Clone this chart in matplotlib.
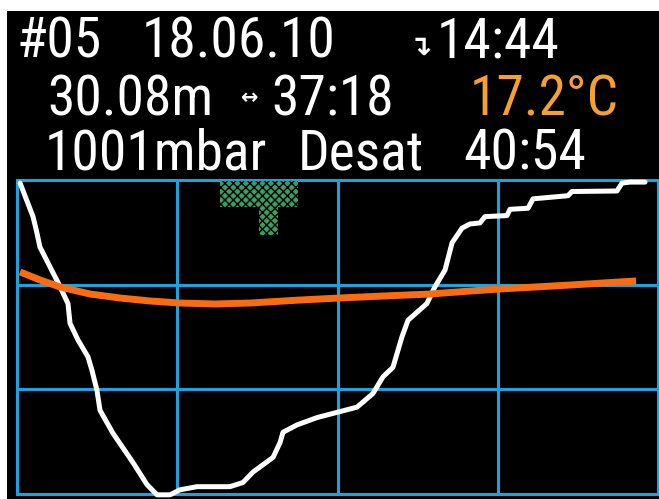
import numpy as np
import matplotlib
matplotlib.use('Agg')
import matplotlib.pyplot as plt
from matplotlib import font_manager
from matplotlib.path import Path

# dive profile: time [min], depth [m]
tiempo = [0.19, 1.0, 1.25, 1.43, 2.06, 2.56, 3.18, 3.31, 3.81, 4.43, 4.68, 4.99, 5.18,
          5.99, 7.24, 8.11, 8.74, 9.55, 10.17, 11.23, 13.29, 14.1, 14.73, 15.98, 16.41,
          16.6, 17.47, 18.72, 19.97, 21.22, 22.21, 22.84, 23.46, 24.02, 24.4, 25.58,
          26.08, 26.71, 27.15, 27.77, 28.27, 28.89, 29.2, 30.58, 30.76, 31.89, 32.2,
          34.38, 34.63, 37.44, 37.75, 38.25, 39.19]
profundidad = [0.29, 3.5, 5.1, 6.4, 8.3, 9.8, 11.8, 13.7, 15.3, 16.9, 18.2, 20.1, 22.0,
               24.2, 27.0, 29.1, 30.08, 30.08, 29.6, 29.3, 29.3, 28.9, 27.9, 26.5, 25.1,
               24.1, 23.4, 22.7, 22.2, 21.7, 20.4, 18.8, 17.9, 15.0, 13.4, 11.8,
               10.2, 8.6, 6.0, 4.6, 4.2, 4.1, 3.5, 3.4, 2.8, 2.7, 1.8,
               1.5, 1.1, 1.05, 0.3, 0.2, 0.2]

# water temperature
tiempo_temp = [0.19, 1.44, 2.68, 4.56, 6.43, 8.3, 10.17, 12.36, 14.54, 17.66, 20.16,
               22.96, 25.77, 28.27, 30.14, 34.51, 38.63]
temperatura = [19.87, 19.2, 18.62, 18.03, 17.7, 17.45, 17.28, 17.2, 17.28, 17.53, 17.7,
               17.87, 18.03, 18.28, 18.45, 18.78, 19.12]

# deco / ascent marker
marca_t = 15.1
marca_prof = 2.7

cabecera = [
    # text, center x px, baseline y px, colour
    ('#05', 59, 57, 'white'),
    ('18.06.10', 239, 57, 'white'),
    ('14:44', 498, 57, 'white'),
    ('30.08m', 130, 115, 'white'),
    ('37:18', 333, 115, 'white'),
    ('17.2°C', 544, 115, '#f5a033'),
    ('1001mbar', 156, 170, 'white'),
    ('Desat', 361, 170, 'white'),
    ('40:54', 525, 170, 'white'),
]

W, H = 659, 499

noms = {f.name for f in font_manager.fontManager.ttflist}
estrecha = 'DejaVu Sans'
for cand in ['Liberation Sans Narrow', 'Roboto Condensed', 'Open Sans Condensed',
             'Noto Sans Condensed', 'DejaVu Sans Condensed']:
    if cand in noms:
        estrecha = cand
        break
fam = [estrecha, 'DejaVu Sans']

fig = plt.figure(figsize=(W / 100, H / 100), dpi=100)
fig.patch.set_facecolor('white')
fig.patches.append(plt.Rectangle((7 / W, 0), 652 / W, 488 / H, transform=fig.transFigure,
                                 facecolor='black', edgecolor='none', zorder=-1))

cian = '#1ba3e0'
ax = fig.add_axes([17 / W, 5 / H, 641 / W, 314 / H])
ax.set_facecolor('black')
ax.set_xlim(0, 40)
ax.set_ylim(30, 0)
ax.set_xticks([0, 10, 20, 30, 40])
ax.set_yticks([0, 10, 20, 30])
ax.tick_params(length=0, labelbottom=False, labelleft=False)
ax.grid(True, color=cian, lw=2.2)
ax.set_axisbelow(True)
for s in ax.spines.values():
    s.set_color(cian)
    s.set_linewidth(2.2)
    s.set_zorder(1)

# T marker
v = [(-1, 0.692), (1, 0.692), (1, 0.026), (0.487, 0.026), (0.487, -0.692),
     (0, -0.692), (0, 0.026), (-1, 0.026), (-1, 0.692)]
t_marker = Path(v, [Path.MOVETO] + [Path.LINETO] * 7 + [Path.CLOSEPOLY])
plt.rcParams['hatch.linewidth'] = 1.0
ax.scatter([marca_t], [marca_prof], marker=t_marker, s=56 ** 2, facecolor='#3a9d62',
           edgecolor='black', linewidths=0, hatch='xxxx', zorder=2)

ax.plot(tiempo, profundidad, color='white', lw=3.6, clip_on=False, zorder=3,
        solid_joinstyle='round', solid_capstyle='round')

ax2 = ax.twinx()
ax2.set_ylim(1.37, 27.53)
ax2.axis('off')
ax2.plot(tiempo_temp, temperatura, color='#f96c12', lw=5, solid_capstyle='butt', zorder=4)

for txt, x, y, col in cabecera:
    fig.text(x / W, 1 - y / H, txt, color=col, fontsize=40, family=fam,
             ha='center', va='baseline')

fig.text(420 / W, 1 - 55 / H, '↴', color='white', fontsize=20, family=['DejaVu Sans'],
         ha='center', va='baseline', fontweight='bold')
fig.text(250 / W, 1 - 98 / H, '↔', color='white', fontsize=15, family=['DejaVu Sans'],
         ha='center', va='center', fontweight='bold')

fig.savefig('out.png', dpi=100, facecolor=fig.get_facecolor())
